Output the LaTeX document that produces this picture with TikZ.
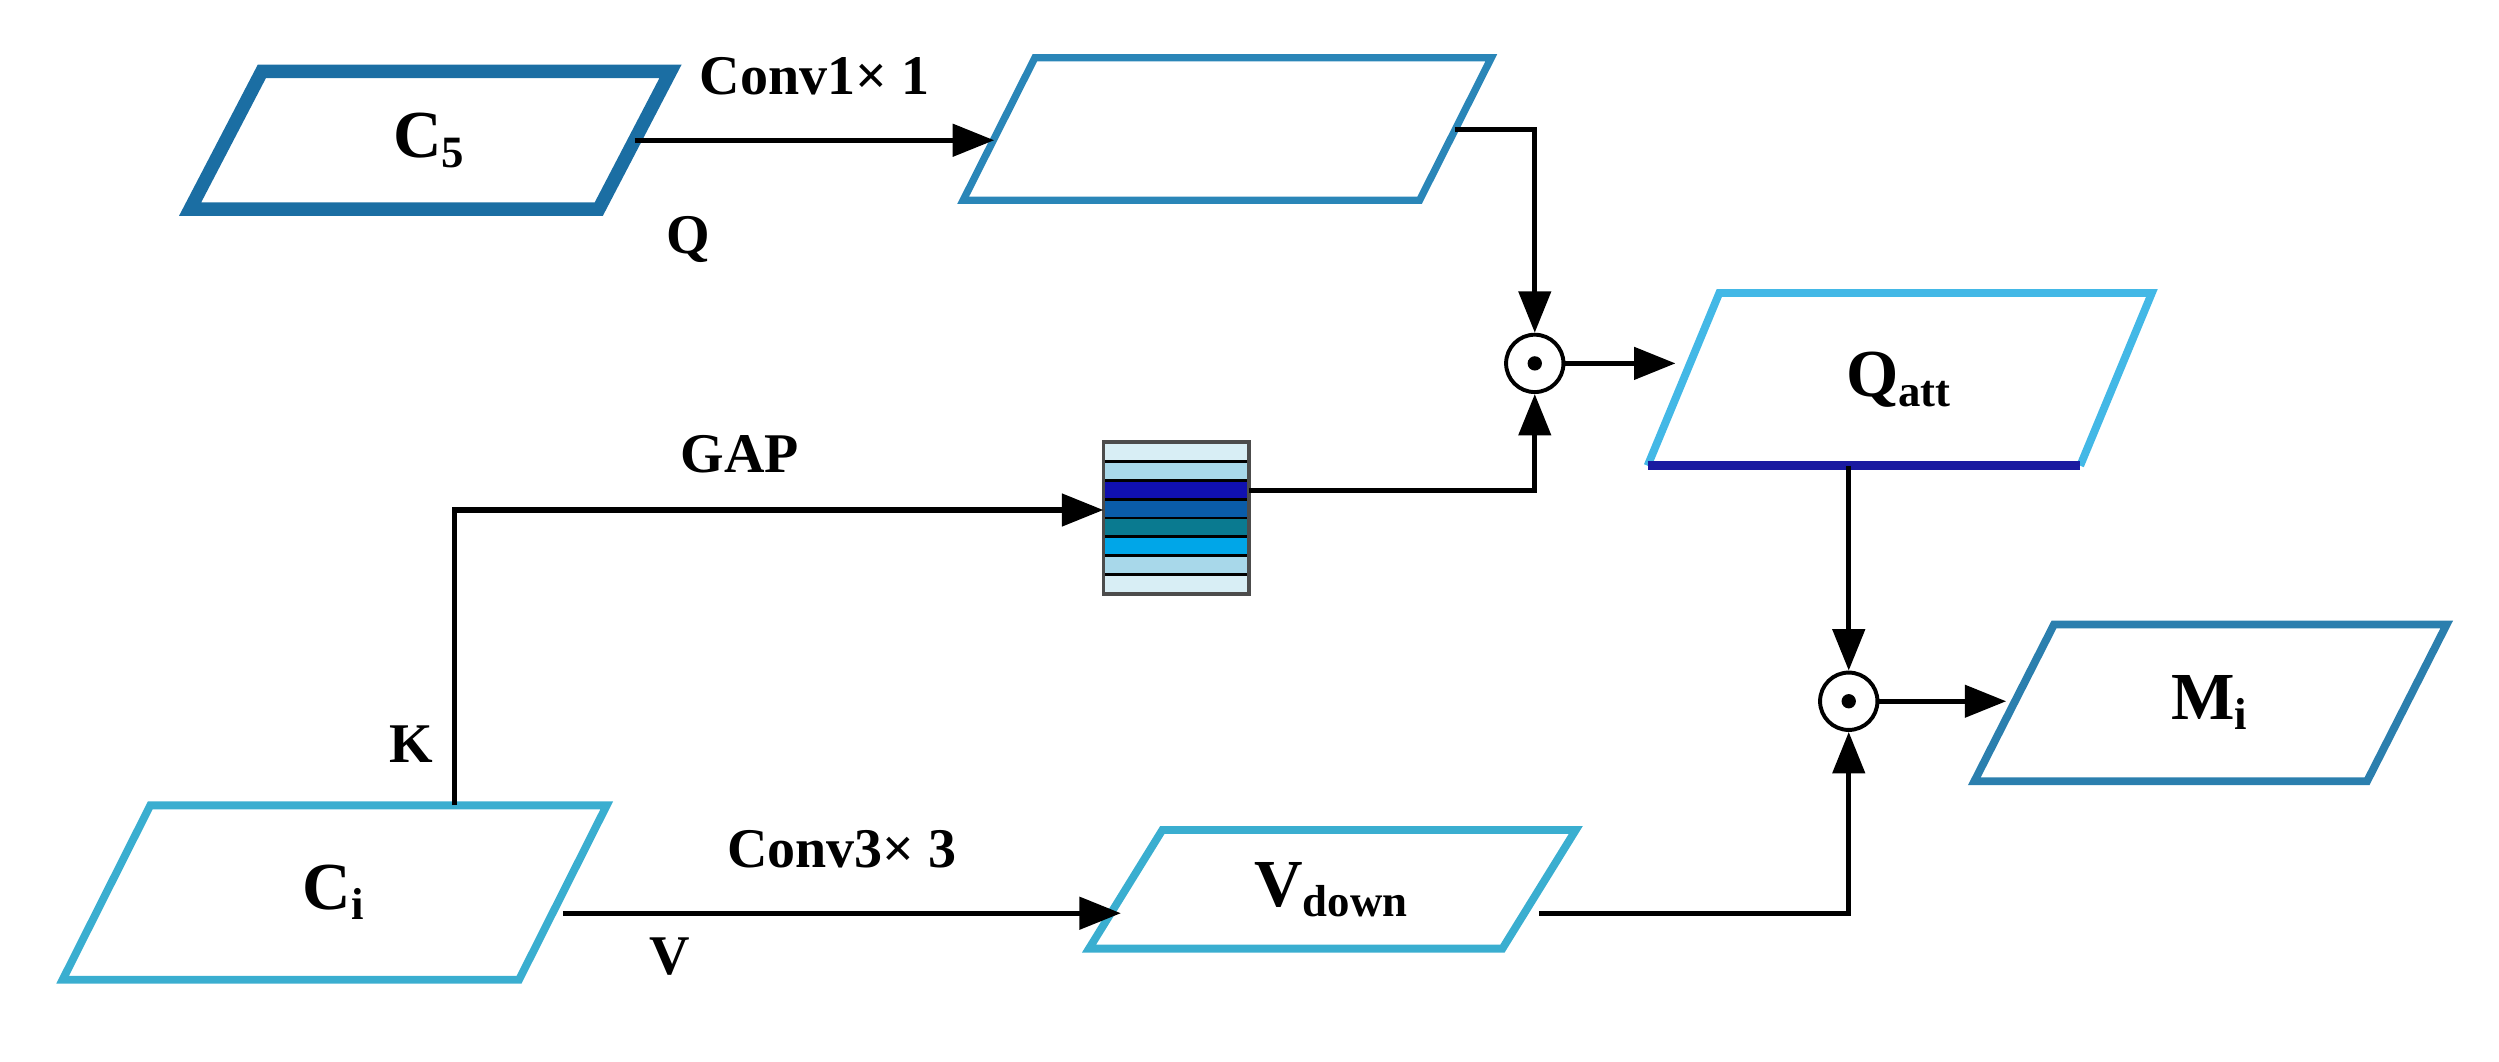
\documentclass[tikz,border=0pt]{standalone}
\usepackage{fontspec}
\setmainfont{Liberation Serif}
\usepackage{tikz}
\usetikzlibrary{arrows.meta}

\definecolor{cfive}{HTML}{1B6EA3}
\definecolor{cconv}{HTML}{2A86B8}
\definecolor{cci}{HTML}{3AAED0}
\definecolor{cmi}{HTML}{2B7FAE}
\definecolor{qtop}{HTML}{43B8E6}
\definecolor{qbot}{HTML}{1A1AA0}

% parallelogram feature map: name, position, width, height, slant, style, text
\newcommand{\featmap}[7]{%
  \node[minimum width=#3, minimum height=#4, inner sep=0, font=\fontsize{12}{14}\bfseries\selectfont] (#1) at #2 {#7};
  \draw[#6] ([xshift=-#5/2]#1.south west) -- ([xshift=-#5/2]#1.south east)
    -- ([xshift=#5/2]#1.north east) -- ([xshift=#5/2]#1.north west) -- cycle;}

\begin{document}
\begin{tikzpicture}[x=0.1mm,y=-0.1mm,line join=miter]
\tikzset{
  flow/.style={-{Triangle[length=2.6mm,width=2mm]}, line width=0.9pt},
  lbl/.style={font=\fontsize{10}{12}\bfseries\selectfont},
  prod/.style={circle, draw, line width=0.7pt, minimum size=3.6mm, inner sep=0}
}
\useasboundingbox (0,0) rectangle (1568,666);

\featmap{c5}{(270,88)}{25.5mm}{8.5mm}{4.5mm}{cfive,line width=2.4pt}{C\textsubscript{5}}
\featmap{conv}{(770,81)}{28.5mm}{8.8mm}{4.5mm}{cconv,line width=1.3pt}{}
\featmap{ci}{(210,560)}{28.5mm}{10.8mm}{5.5mm}{cci,line width=1.4pt}{C\textsubscript{i}}
\featmap{vdown}{(836,558)}{25.8mm}{7.3mm}{4.6mm}{cci,line width=1.4pt}{V\textsubscript{down}}
\featmap{mi}{(1387,441)}{24.5mm}{9.7mm}{5mm}{cmi,line width=1.4pt}{M\textsubscript{i}}

% Q_att with two-tone outline
\node[minimum width=27mm, minimum height=10.7mm, inner sep=0, font=\fontsize{12}{14}\bfseries\selectfont] (qatt) at (1192,238) {Q\textsubscript{att}};
\draw[qtop,line width=1.4pt] ([xshift=-2.25mm]qatt.south west) -- ([xshift=2.25mm]qatt.north west)
  -- ([xshift=2.25mm]qatt.north east) -- ([xshift=-2.25mm]qatt.south east);
\draw[qbot,line width=1.6pt] ([xshift=-2.25mm]qatt.south west) -- ([xshift=-2.25mm]qatt.south east);

% GAP vector
\node[minimum width=9mm, minimum height=9.4mm, inner sep=0] (gap) at (738,325) {};
\foreach \c [count=\i from 0] in {D8EEF5,A8D8EA,1010B0,0A5CA8,0A7A90,00A6E8,A8D8EA,D8EEF5}{
  \definecolor{bar}{HTML}{\c}
  \fill[bar] (693,278+\i*11.75) rectangle (783,278+\i*11.75+11.75);
  \draw[line width=0.5pt] (693,278+\i*11.75) -- (783,278+\i*11.75);
}
\draw[line width=0.6pt,black!70] (gap.south west) rectangle (gap.north east);

% products
\node[prod] (m1) at (963,228) {};
\node[prod] (m2) at (1160,440) {};
\fill (m1) circle (0.45mm);
\fill (m2) circle (0.45mm);

% connectors
\draw[flow] (c5.east) -- ([xshift=-0.3mm]conv.west |- c5.east) node[lbl,midway,above=1.5mm] {Conv1× 1};
\node[lbl] at (432,150) {Q};
\draw[flow] (conv.east) -| (m1.north);
\draw[flow] (m1.east) -- ([xshift=-0.5mm]qatt.west |- m1);
\draw[flow] (gap.east |- 0,308) -| (m1.south);
\draw[flow] (ci.north -| 285,0) |- (gap.west |- 0,320) node[lbl,pos=0.72,above=1mm] {GAP};
\node[lbl] at (258,467) {K};
\draw[flow] (ci.east |- 0,573) -- ([xshift=-0.3mm]vdown.west |- 0,573) node[lbl,midway,above=1.5mm] {Conv3× 3};
\node[lbl] at (420,600) {V};
\draw[flow] (vdown.east |- 0,573) -| (m2.south);
\draw[flow] (qatt.south -| m2) -- (m2.north);
\draw[flow] (m2.east) -- ([xshift=-0.5mm]mi.west |- m2);
\end{tikzpicture}
\end{document}
